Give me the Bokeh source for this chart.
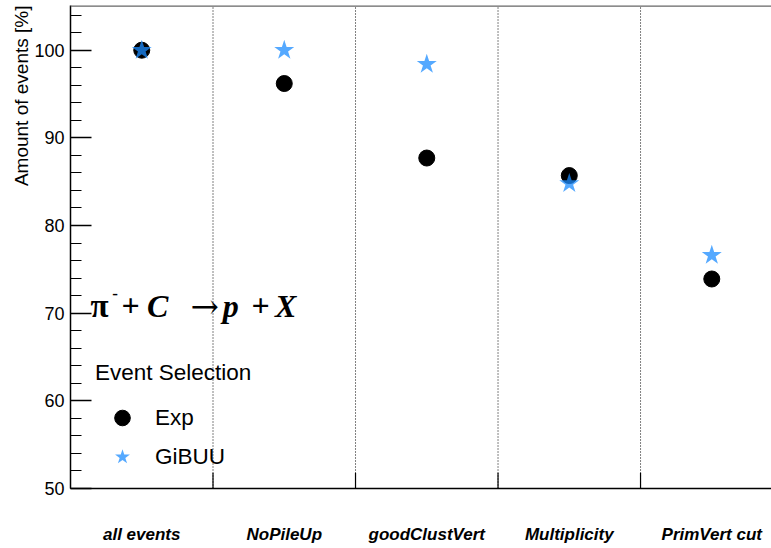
import math
from bokeh.plotting import figure
from bokeh.models import (ColumnDataSource, Label, Legend, LegendItem, Span, Title,
                          FixedTicker, SingleIntervalTicker, Range1d)
from bokeh.embed import file_html
from bokeh.resources import INLINE

categories = ["all events", "NoPileUp", "goodClustVert", "Multiplicity", "PrimVert cut"]
exp_values = [100.0, 96.2, 87.7, 85.7, 73.9]
gibuu_values = [100.0, 100.0, 98.4, 84.8, 76.6]
y_ticks_major = 10
y_start, y_end = 50, 105.1

n = len(categories)
xc = [i + 0.5 for i in range(n)]
bounds = [float(i) for i in range(1, n)]

p = figure(width=771, height=548, output_backend="svg", toolbar_location=None,
           x_range=Range1d(0, 4.919), y_range=Range1d(y_start, y_end),
           min_border_left=70, min_border_right=0, min_border_top=5,
           min_border_bottom=60)
p.outline_line_color = None
p.grid.grid_line_color = None
p.background_fill_color = "white"
p.border_fill_color = "white"

# y axis title (top aligned, like ROOT)
p.add_layout(Title(text="Amount of events [%]", align="right", text_font="Liberation Sans",
                   text_font_size="19px", text_font_style="normal", text_color="black",
                   standoff=0, offset=0), "left")

# y axis
ya = p.yaxis[0]
ya.ticker = SingleIntervalTicker(interval=y_ticks_major, num_minor_ticks=5)
ya.major_tick_in = 21
ya.major_tick_out = 0
ya.minor_tick_in = 11
ya.minor_tick_out = 0
ya.axis_line_color = "black"
ya.axis_line_width = 1.5
ya.major_tick_line_width = 1.5
ya.minor_tick_line_width = 1.2
ya.major_label_text_font = "Liberation Sans"
ya.major_label_text_font_size = "18px"
ya.major_label_text_color = "black"
ya.major_label_standoff = 6

# x axis
xa = p.xaxis[0]
xa.ticker = FixedTicker(ticks=xc)
xa.major_label_overrides = {x: c for x, c in zip(xc, categories)}
xa.major_tick_in = 0
xa.major_tick_out = 0
xa.minor_tick_line_color = None
xa.axis_line_color = "black"
xa.axis_line_width = 1.5
xa.major_label_text_font = "Liberation Sans"
xa.major_label_text_font_style = "bold italic"
xa.major_label_text_font_size = "17px"
xa.major_label_text_color = "black"
xa.major_label_standoff = 36

# top frame line
p.add_layout(Span(location=y_end, dimension="width", line_color="#666666", line_width=2.5))

# dividers
bsrc = ColumnDataSource(dict(x=bounds, y0=[y_start] * len(bounds), y1=[y_end] * len(bounds),
                             yt=[y_start + 1.8] * len(bounds)))
p.segment(x0="x", y0="y0", x1="x", y1="y1", source=bsrc, line_color="black",
          line_width=1, line_dash="1 2")
p.segment(x0="x", y0="y0", x1="x", y1="yt", source=bsrc, line_color="black", line_width=1.2)

src = ColumnDataSource(dict(x=xc, exp=exp_values, gibuu=gibuu_values))
r_exp = p.scatter("x", "exp", source=src, marker="circle", size=16,
                  fill_color="black", line_color="black")
r_gib = p.scatter("x", "gibuu", source=src, marker="star", size=21,
                  fill_color="#1c8cff", fill_alpha=0.75, line_color=None)

legend = Legend(items=[LegendItem(label="Exp", renderers=[r_exp]),
                       LegendItem(label="GiBUU", renderers=[r_gib])],
                title="Event Selection", location=(25, 12))
legend.background_fill_alpha = 0
legend.border_line_color = None
legend.padding = 0
legend.margin = 0
legend.spacing = 0
legend.glyph_width = 54
legend.glyph_height = 39
legend.label_height = 39
legend.label_standoff = 6
legend.title_standoff = 12
legend.label_text_font = "Liberation Sans"
legend.label_text_font_size = "22.5px"
legend.label_text_color = "black"
legend.title_text_font = "Liberation Sans"
legend.title_text_font_size = "22.5px"
legend.title_text_font_style = "normal"
legend.title_text_color = "black"
p.add_layout(legend)

# reaction formula
def formula(x, y, text, size, style="bold italic", font="Liberation Serif"):
    p.add_layout(Label(x=x, y=y, text=text, text_align="left", text_baseline="alphabetic",
                       text_font=font, text_font_style=style,
                       text_font_size=size, text_color="black"))

base = 70.85
formula(0.140, base, "π", "33px", "bold")
formula(0.293, 72.2, "-", "17px", "bold")
formula(0.358, base, "+", "32px", "bold")
formula(0.537, base, "C", "32px")
formula(0.842, base, "\u2192", "34px", "normal", "DejaVu Serif")
formula(1.068, base, "p", "32px")
formula(1.270, base, "+", "32px", "bold")
formula(1.435, base, "X", "32px")

open("out.html", "w").write(file_html(p, INLINE))
